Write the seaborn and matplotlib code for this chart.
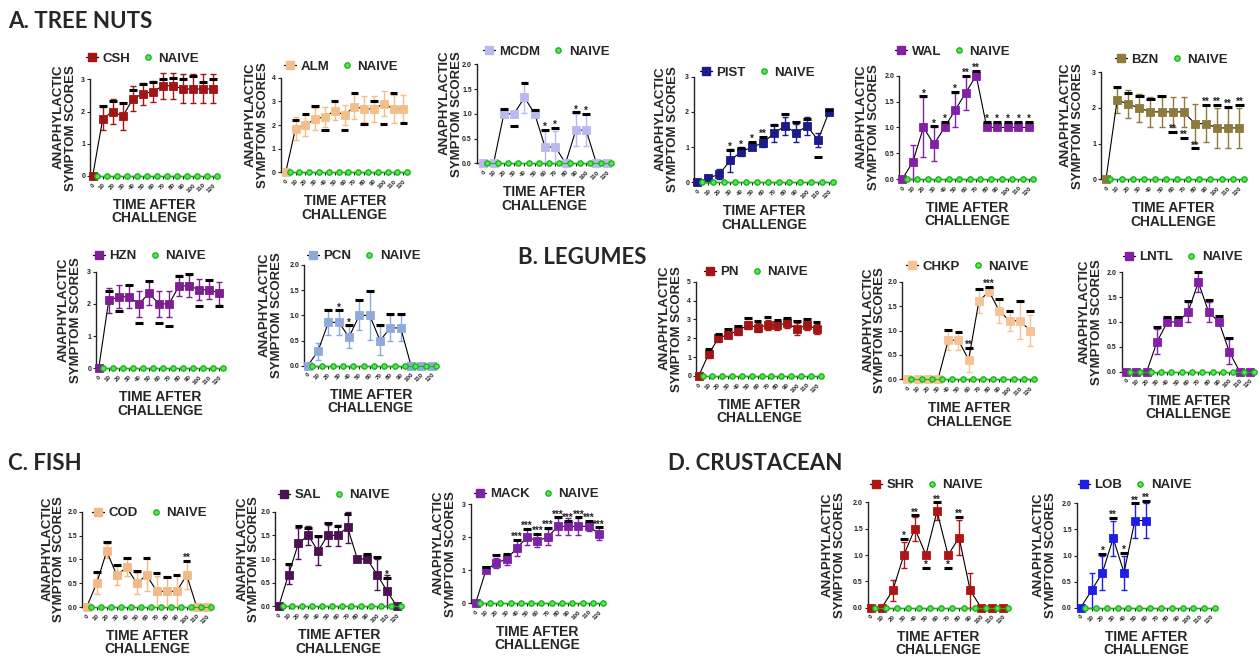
import numpy as np
import pandas as pd
import matplotlib
matplotlib.use("Agg")
import matplotlib.pyplot as plt
import seaborn as sns
from matplotlib.lines import Line2D

# ---------------- DATA ----------------
TIMES = [0, 10, 20, 30, 40, 50, 60, 70, 80, 90, 100, 110, 120]
TIME_LABELS = [str(t) for t in TIMES]
NAIVE_SCORES = [0] * 13
N = None

CSH_MEAN = [0, 1.78, 2.0, 1.85, 2.4, 2.55, 2.62, 2.8, 2.8, 2.7, 2.7, 2.7, 2.7]
CSH_SEM = [0, 0.35, 0.38, 0.43, 0.38, 0.35, 0.33, 0.4, 0.4, 0.45, 0.45, 0.45, 0.45]
CSH_SIG = [N, 2.16, 2.32, 2.26, 2.66, 2.86, 2.93, 3.0, 3.05, 3.0, 3.1, 2.93, 3.02]
CSH_STARS = [""] * 13

ALM_MEAN = [0, 1.85, 2.0, 2.25, 2.35, 2.6, 2.42, 2.78, 2.68, 2.68, 2.9, 2.68, 2.68]
ALM_SEM = [0, 0.5, 0.45, 0.45, 0.43, 0.38, 0.43, 0.52, 0.55, 0.55, 0.53, 0.6, 0.6]
ALM_SIG = [N, 2.2, 2.47, 2.8, 1.8, 3.0, 1.78, 3.35, 2.05, 3.0, 2.05, 3.35, 2.08]
ALM_STARS = [""] * 13

MCDM_MEAN = [0, 0, 1.0, 1.0, 1.33, 1.0, 0.33, 0.33, 0, 0.67, 0.67, 0, 0]
MCDM_SEM = [0, 0, 0, 0, 0.31, 0, 0.33, 0.33, 0, 0.33, 0.33, 0, 0]
MCDM_SIG = [N, N, 1.1, 0.75, 1.63, 1.08, 0.68, 0.72, N, 1.03, 1.0, N, N]
MCDM_STARS = ["", "", "", "", "", "", "*", "*", "", "*", "*", "", ""]

PIST_MEAN = [0, 0.12, 0.23, 0.62, 0.87, 1.0, 1.12, 1.4, 1.6, 1.4, 1.6, 1.2, 2.0]
PIST_SEM = [0, 0.1, 0.15, 0.33, 0.12, 0.05, 0.12, 0.25, 0.25, 0.25, 0.25, 0.2, 0.05]
PIST_SIG = [N, N, N, 0.92, 0.98, 1.15, 1.3, 1.63, 1.95, 1.7, 1.8, 0.72, 2.05]
PIST_STARS = ["", "", "", "*", "*", "*", "**", "", "", "", "", "", ""]

WAL_MEAN = [0, 0.33, 1.0, 0.67, 1.0, 1.33, 1.67, 2.0, 1.0, 1.0, 1.0, 1.0, 1.0]
WAL_SEM = [0, 0.33, 0.58, 0.33, 0, 0.33, 0.33, 0, 0, 0, 0, 0, 0]
WAL_SIG = [N, N, 1.6, 1.02, 1.1, 1.68, 2.0, 2.1, 1.1, 1.1, 1.1, 1.1, 1.1]
WAL_STARS = ["", "", "*", "*", "*", "*", "**", "**", "*", "*", "*", "*", "*"]

BZN_MEAN = [0, 2.22, 2.11, 2.0, 1.89, 1.89, 1.89, 1.89, 1.56, 1.56, 1.44, 1.44, 1.44]
BZN_SEM = [0, 0.35, 0.38, 0.4, 0.43, 0.43, 0.43, 0.43, 0.54, 0.52, 0.56, 0.56, 0.56]
BZN_SIG = [N, 2.6, 2.42, 2.33, 2.25, 2.33, 1.33, 1.17, 0.87, 2.08, 2.08, 2.03, 2.08]
BZN_STARS = ["", "", "", "", "", "", "**", "**", "**", "**", "**", "**", "**"]

HZN_MEAN = [0, 2.11, 2.22, 2.22, 2.0, 2.33, 2.0, 2.0, 2.56, 2.56, 2.44, 2.44, 2.33]
HZN_SEM = [0, 0.38, 0.36, 0.36, 0.4, 0.37, 0.4, 0.4, 0.33, 0.35, 0.33, 0.3, 0.35]
HZN_SIG = [N, 2.4, 1.78, 2.6, 1.42, 2.72, 1.42, 1.32, 2.87, 2.93, 1.93, 2.73, 1.92]
HZN_STARS = [""] * 13

PCN_MEAN = [0, 0.29, 0.86, 0.86, 0.57, 1.0, 1.0, 0.5, 0.75, 0.75, 0, 0, 0]
PCN_SEM = [0, 0.17, 0.26, 0.26, 0.21, 0.3, 0.48, 0.28, 0.25, 0.25, 0, 0, 0]
PCN_SIG = [N, N, 1.1, 1.1, 0.8, 1.3, 1.48, 0.8, 1.02, 1.02, N, N, N]
PCN_STARS = ["", "", "", "*", "*", "", "", "", "", "", "", "", ""]

PN_MEAN = [0, 1.15, 2.0, 2.2, 2.4, 2.7, 2.57, 2.7, 2.7, 2.8, 2.5, 2.7, 2.5]
PN_SEM = [0, 0.2, 0.2, 0.2, 0.2, 0.2, 0.22, 0.28, 0.27, 0.27, 0.3, 0.25, 0.25]
PN_SIG = [N, 1.45, 2.25, 2.5, 2.65, 3.08, 2.92, 3.13, 2.98, 3.07, 2.92, 3.03, 2.88]
PN_STARS = [""] * 13

CHKP_MEAN = [0, 0, 0, 0, 0.8, 0.8, 0.4, 1.6, 1.8, 1.4, 1.2, 1.2, 1.0]
CHKP_SEM = [0, 0, 0, 0, 0.2, 0.2, 0.25, 0.25, 0.1, 0.25, 0.2, 0.38, 0.32]
CHKP_SIG = [N, N, N, N, 1.02, 0.97, 0.65, 1.85, 1.9, 1.65, 1.4, 1.6, 1.4]
CHKP_STARS = ["", "", "", "", "", "", "**", "", "***", "", "", "", ""]

LNTL_MEAN = [0, 0, 0, 0.6, 1.0, 1.0, 1.2, 1.8, 1.2, 1.0, 0.4, 0, 0]
LNTL_SEM = [0, 0, 0, 0.25, 0, 0, 0.2, 0.2, 0.2, 0, 0.25, 0, 0]
LNTL_SIG = [N, N, N, 0.9, 1.1, 1.1, 1.42, 2.0, 1.45, 1.12, 0.67, N, N]
LNTL_STARS = [""] * 13

COD_MEAN = [0, 0.5, 1.17, 0.67, 0.83, 0.5, 0.67, 0.33, 0.33, 0.33, 0.67, 0, 0]
COD_SEM = [0, 0.22, 0.15, 0.2, 0.17, 0.22, 0.33, 0.33, 0.33, 0.33, 0.3, 0, 0]
COD_SIG = [N, 0.73, 1.37, 0.88, 1.03, 0.75, 1.03, 0.72, 0.63, 0.67, 0.97, N, N]
COD_STARS = ["", "", "", "", "", "", "", "", "", "", "**", "", ""]

SAL_MEAN = [0, 0.67, 1.33, 1.5, 1.17, 1.5, 1.5, 1.67, 1.0, 1.0, 0.67, 0.33, 0]
SAL_SEM = [0, 0.2, 0.33, 0.2, 0.3, 0.22, 0.22, 0.33, 0, 0, 0.33, 0.33, 0]
SAL_SIG = [N, 0.9, 1.7, 1.65, 1.48, 1.77, 1.7, 1.95, N, 1.1, 1.05, 0.6, N]
SAL_STARS = ["", "", "", "", "", "", "", "", "", "", "", "*", ""]

MACK_MEAN = [0, 1.0, 1.22, 1.33, 1.67, 2.0, 1.89, 2.0, 2.33, 2.33, 2.33, 2.33, 2.11]
MACK_SEM = [0, 0.05, 0.15, 0.17, 0.25, 0.25, 0.2, 0.25, 0.25, 0.25, 0.25, 0.15, 0.2]
MACK_SIG = [N, 1.1, 1.45, 1.5, 1.92, 2.25, 2.1, 2.28, 2.6, 2.5, 2.6, 2.5, 2.3]
MACK_STARS = ["", "", "", "", "***", "***", "***", "***", "***", "***", "***", "***", "***"]

SHR_MEAN = [0, 0, 0.33, 1.0, 1.5, 1.0, 1.83, 1.0, 1.33, 0.33, 0, 0, 0]
SHR_SEM = [0, 0, 0.2, 0.25, 0.23, 0, 0.17, 0, 0.33, 0.33, 0, 0, 0]
SHR_SIG = [N, N, N, 1.3, 1.75, 0.75, 2.0, 0.75, 1.72, N, N, N, N]
SHR_STARS = ["", "", "", "*", "**", "*", "**", "*", "**", "", "", "", ""]

LOB_MEAN = [0, 0.33, 0.67, 1.33, 0.67, 1.67, 1.67, N, N, N, N, N, N]
LOB_SEM = [0, 0.33, 0.33, 0.33, 0.33, 0.33, 0.33, N, N, N, N, N, N]
LOB_SIG = [N, N, 1.03, 1.72, 1.05, 2.0, 2.05, N, N, N, N, N, N]
LOB_STARS = ["", "", "*", "**", "*", "**", "**", "", "", "", "", "", ""]

# ---------------- LAYOUT / STYLE ----------------
W, H = 1260, 661
FONT = "Liberation Sans"
GREEN_FACE = "#5fe05f"
GREEN_EDGE = "#14b814"

# name, data, color, (yaxis_x, idx0_x, idx12_x, ytop_y, yzero_y), ymax, legend(x,y), ylabel offset
PANELS = [
    ("CSH", (CSH_MEAN, CSH_SEM, CSH_SIG, CSH_STARS), "#A31515", (90, 92.7, 213.3, 79.3, 176), 3, (86, 59), 13),
    ("ALM", (ALM_MEAN, ALM_SEM, ALM_SIG, ALM_STARS), "#F5BD88", (280.7, 285.7, 403.3, 77.7, 172.3), 4, (284, 67), 12),
    ("MCDM", (MCDM_MEAN, MCDM_SEM, MCDM_SIG, MCDM_STARS), "#B9B9EE", (476.7, 483.3, 606.7, 64.3, 163.3), 2, (483, 52), 14),
    ("PIST", (PIST_MEAN, PIST_SEM, PIST_SIG, PIST_STARS), "#1B1B8A", (694, 697.3, 829, 76.7, 182.3), 3, (700, 73), 15),
    ("WAL", (WAL_MEAN, WAL_SEM, WAL_SIG, WAL_STARS), "#8420A6", (899, 902.3, 1029, 75.7, 179), 2, (895, 52), 19),
    ("BZN", (BZN_MEAN, BZN_SEM, BZN_SIG, BZN_STARS), "#8C7B3C", (1101, 1106, 1239.3, 72.3, 179.3), 3, (1115, 60), 17),
    ("HZN", (HZN_MEAN, HZN_SEM, HZN_SIG, HZN_STARS), "#7D1F92", (96, 98.7, 219.3, 271.7, 368.3), 3, (93, 256), 14),
    ("PCN", (PCN_MEAN, PCN_SEM, PCN_SIG, PCN_STARS), "#8EAADA", (304, 307.7, 431.7, 265, 365.7), 2, (307, 256), 21),
    ("PN", (PN_MEAN, PN_SEM, PN_SIG, PN_STARS), "#A31515", (696, 698.7, 816.7, 281.7, 376), 5, (704, 272), 13),
    ("CHKP", (CHKP_MEAN, CHKP_SEM, CHKP_SIG, CHKP_STARS), "#F7C394", (902.3, 907.3, 1030, 281.7, 379.3), 2, (906, 267), 16),
    ("LNTL", (LNTL_MEAN, LNTL_SEM, LNTL_SIG, LNTL_STARS), "#8420A6", (1121.7, 1126, 1250, 272.3, 371.7), 2, (1123, 257), 19),
    ("COD", (COD_MEAN, COD_SEM, COD_SIG, COD_STARS), "#F2B987", (82.3, 86.7, 206.7, 511.7, 607), 2, (92, 513), 17),
    ("SAL", (SAL_MEAN, SAL_SEM, SAL_SIG, SAL_STARS), "#4C1352", (275.3, 278.7, 396.7, 511.7, 606.3), 2, (278, 495), 15),
    ("MACK", (MACK_MEAN, MACK_SEM, MACK_SIG, MACK_STARS), "#7E22A8", (470.7, 475.7, 599, 504.3, 603), 3, (474, 494), 14),
    ("SHR", (SHR_MEAN, SHR_SEM, SHR_SIG, SHR_STARS), "#B01515", (867.7, 870.7, 1003.3, 502.3, 607.7), 2, (870, 485), 22),
    ("LOB", (LOB_MEAN, LOB_SEM, LOB_SIG, LOB_STARS), "#1E1EE6", (1076.7, 1080.7, 1210.7, 503.3, 607.7), 2, (1078, 485), 20),
]

SECTIONS = [("A. TREE NUTS", 8, 21), ("B. LEGUMES", 518, 258), ("C. FISH", 8, 464), ("D. CRUSTACEAN", 668, 464)]

sns.set_style("ticks")
plt.rcParams["font.family"] = [FONT, "DejaVu Sans"]
plt.rcParams["font.weight"] = "bold"

fig = plt.figure(figsize=(W / 100, H / 100), dpi=100)


def to_float(lst):
    return np.array([np.nan if v is None else v for v in lst], dtype=float)


for name, (mean, sem, sig, stars), color, geom, ymax, leg_xy, ylab_off in PANELS:
    yax, x0, x12, ytop, yzero = geom
    s = (x12 - x0) / 12.0
    xl = -(x0 - yax) / s
    xr = 12.55
    right_px = x0 + xr * s
    ax = fig.add_axes([yax / W, 1 - yzero / H, (right_px - yax) / W, (yzero - ytop) / H])

    idx = np.arange(13)
    mean_a = to_float(mean)
    sem_a = to_float(sem)
    sig_a = to_float(sig)

    # error bars
    has_err = np.nan_to_num(sem_a) > 0
    ax.errorbar(idx[has_err], mean_a[has_err], yerr=sem_a[has_err], fmt="none",
                ecolor=color, elinewidth=1.0, capsize=2, capthick=1.0, clip_on=False, zorder=3)

    # treatment series
    df = pd.DataFrame({"idx": idx, "score": mean_a}).dropna()
    sns.lineplot(data=df, x="idx", y="score", ax=ax, color="black", lw=0.8, marker="s",
                 markersize=5.5, markerfacecolor=color, markeredgecolor=color, markeredgewidth=0.6,
                 clip_on=False, zorder=4, legend=False, errorbar=None)

    # naive series
    dn = pd.DataFrame({"idx": idx + 0.4, "score": NAIVE_SCORES})
    sns.lineplot(data=dn, x="idx", y="score", ax=ax, color=GREEN_EDGE, lw=0.8, marker="o",
                 markersize=3.8, markerfacecolor=GREEN_FACE, markeredgecolor=GREEN_EDGE,
                 markeredgewidth=1.0, clip_on=False, zorder=5, legend=False, errorbar=None)

    # significance bars and stars
    for i in idx:
        if not np.isnan(sig_a[i]):
            ax.hlines(sig_a[i], i - 0.38, i + 0.38, colors="black", lw=2.2, clip_on=False, zorder=6)
        if stars[i]:
            ax.annotate(stars[i], (i, sig_a[i]), xytext=(0, -1.5), textcoords="offset points",
                        ha="center", va="bottom", fontsize=7, fontweight="bold",
                        color="#222222", annotation_clip=False, zorder=6)

    ax.set_xlim(xl, xr)
    ax.set_ylim(0, ymax)
    step = 0.5 if ymax == 2 else 1
    yt = np.arange(0, ymax + 1e-6, step)
    ax.set_yticks(yt, [("%.1f" % v) if step == 0.5 else ("%d" % v) for v in yt],
                  fontsize=5, fontweight="bold")
    ax.set_xticks(idx, TIME_LABELS, rotation=45, ha="right", rotation_mode="anchor",
                  fontsize=4.5, fontweight="bold")
    ax.tick_params(axis="both", length=2, width=0.8, pad=1.5, colors="#222222")
    ax.tick_params(axis="x", pad=2.5)
    for sp in ("top", "right"):
        ax.spines[sp].set_visible(False)
    for sp in ("left", "bottom"):
        ax.spines[sp].set_linewidth(1.0)
        ax.spines[sp].set_color("#222222")
    ax.set_xlabel("")
    ax.set_ylabel("")

    # axis titles
    cx = (yax + right_px) / 2
    fig.text(cx / W, 1 - (yzero + 22) / H, "TIME AFTER\nCHALLENGE", ha="center", va="top",
             fontsize=10, fontweight="bold", linespacing=0.95)
    cy = (ytop + yzero) / 2
    fig.text((yax - ylab_off) / W, 1 - cy / H, "ANAPHYLACTIC\nSYMPTOM SCORES", ha="right",
             va="center", rotation=90, fontsize=9.5, fontweight="bold", linespacing=1.0)

    # legend
    h1 = Line2D([], [], color="black", lw=0.9, marker="s", markersize=5.5,
                markerfacecolor=color, markeredgecolor=color)
    h2 = Line2D([], [], linestyle="none", marker="o", markersize=3.8,
                markerfacecolor=GREEN_FACE, markeredgecolor=GREEN_EDGE, markeredgewidth=1.0)
    ax.legend([h1, h2], [name, "NAIVE"], loc="center left",
              bbox_to_anchor=(leg_xy[0] / W, 1 - leg_xy[1] / H), bbox_transform=fig.transFigure,
              ncol=2, frameon=False, borderpad=0, borderaxespad=0, handlelength=0.9,
              handletextpad=0.35, columnspacing=0.9,
              prop={"weight": "bold", "size": 9.5, "family": FONT})

for text, x, y in SECTIONS:
    fig.text(x / W, 1 - y / H, text, ha="left", va="center", fontsize=16,
             fontweight="bold", family=["Lato", "DejaVu Sans"])

fig.savefig("out.png", dpi=100)
